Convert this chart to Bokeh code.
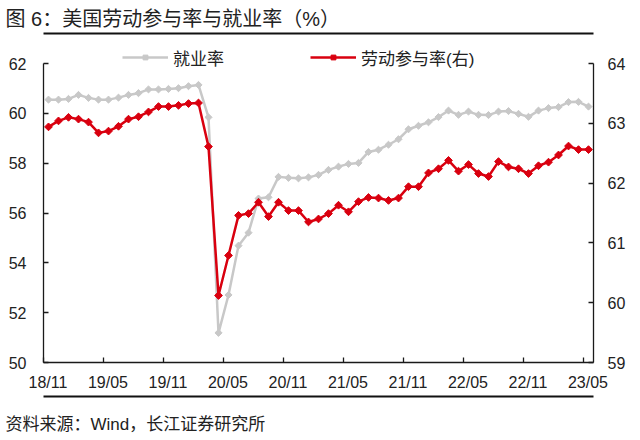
import math
from bokeh.plotting import figure
from bokeh.models import (Range1d, LinearAxis, FixedTicker, Legend, LegendItem, Title)
from bokeh.embed import file_html
from bokeh.resources import INLINE

# ---- data ----
months = [
    "2018-11", "2018-12",
    "2019-01", "2019-02", "2019-03", "2019-04", "2019-05", "2019-06",
    "2019-07", "2019-08", "2019-09", "2019-10", "2019-11", "2019-12",
    "2020-01", "2020-02", "2020-03", "2020-04", "2020-05", "2020-06",
    "2020-07", "2020-08", "2020-09", "2020-10", "2020-11", "2020-12",
    "2021-01", "2021-02", "2021-03", "2021-04", "2021-05", "2021-06",
    "2021-07", "2021-08", "2021-09", "2021-10", "2021-11", "2021-12",
    "2022-01", "2022-02", "2022-03", "2022-04", "2022-05", "2022-06",
    "2022-07", "2022-08", "2022-09", "2022-10", "2022-11", "2022-12",
    "2023-01", "2023-02", "2023-03", "2023-04", "2023-05",
]

employment_rate = [
    60.55, 60.55, 60.58, 60.74, 60.62, 60.55, 60.55, 60.63, 60.74, 60.81,
    60.96, 60.96, 60.98, 61.01, 61.09, 61.14, 59.84, 51.19, 52.71, 54.69,
    55.21, 56.58, 56.63, 57.45, 57.41, 57.39, 57.43, 57.53, 57.73, 57.86,
    57.97, 58.01, 58.45, 58.54, 58.74, 58.96, 59.36, 59.50, 59.64, 59.85,
    60.11, 59.94, 60.07, 59.94, 59.93, 60.07, 60.09, 59.98, 59.86, 60.11,
    60.21, 60.25, 60.45, 60.46, 60.27,
]

participation_rate = [
    62.94, 63.04, 63.10, 63.07, 63.02, 62.84, 62.87, 62.95, 63.07, 63.11,
    63.19, 63.28, 63.28, 63.30, 63.33, 63.34, 62.61, 60.12, 60.79, 61.46,
    61.49, 61.68, 61.44, 61.68, 61.54, 61.54, 61.35, 61.40, 61.49, 61.63,
    61.52, 61.69, 61.76, 61.75, 61.71, 61.75, 61.94, 61.94, 62.17, 62.24,
    62.38, 62.20, 62.31, 62.16, 62.11, 62.36, 62.27, 62.24, 62.16, 62.29,
    62.35, 62.47, 62.62, 62.56, 62.56,
]

tick_labels = ["18/11", "19/05", "19/11", "20/05", "20/11",
               "21/05", "21/11", "22/05", "22/11", "23/05"]
left_ticks = [50, 52, 54, 56, 58, 60, 62]
right_ticks = [59, 60, 61, 62, 63, 64]

title_text = "图 6：美国劳动参与率与就业率（%）"
source_text = "资料来源：Wind，长江证券研究所"
legend_emp = "就业率"
legend_lfpr = "劳动参与率(右)"

# ---- styling / layout ----
FONT = "Liberation Sans, Noto Sans CJK SC"
GRAY = "#C8C8C8"
RED = "#D9000F"
AXIS = "#1a1a1a"
RULE = "#111111"
TEXT = "#222222"

W, H = 640, 440
FR_LEFT, FR_RIGHT, FR_TOP, FR_BOTTOM = 43, 593, 33, 362   # frame (pixels)
AX_TOP = 63                                                # top of the drawn value axes
left_lo, left_hi = left_ticks[0], left_ticks[-1]
right_lo, right_hi = right_ticks[0], right_ticks[-1]
ax_h = FR_BOTTOM - AX_TOP
fr_h = FR_BOTTOM - FR_TOP
left_top = left_lo + fr_h * (left_hi - left_lo) / ax_h
right_top = right_lo + fr_h * (right_hi - right_lo) / ax_h

n = len(months)
xs = [i + 0.5 for i in range(n)]

p = figure(width=W, height=H, output_backend="svg", toolbar_location=None,
           x_range=Range1d(0, n), y_range=Range1d(left_lo, left_top),
           x_axis_type=None, y_axis_type=None,
           min_border_left=FR_LEFT, min_border_right=W - FR_RIGHT,
           min_border_top=FR_TOP, min_border_bottom=H - FR_BOTTOM)
p.extra_y_ranges = {"right": Range1d(right_lo, right_top)}
p.outline_line_color = None
p.background_fill_color = "white"
p.border_fill_color = "white"

# axes
xaxis = LinearAxis(ticker=FixedTicker(ticks=[6 * k + 0.45 for k in range(len(tick_labels))],
                                      minor_ticks=[6 * k for k in range(len(tick_labels))]))
xaxis.major_label_overrides = {6 * k + 0.45: lab for k, lab in enumerate(tick_labels)}
xaxis.major_tick_in = 0
xaxis.major_tick_out = 0
xaxis.minor_tick_in = 5
xaxis.minor_tick_out = 0
xaxis.minor_tick_line_color = AXIS
xaxis.minor_tick_line_width = 1.3
xaxis.major_label_standoff = 11
p.add_layout(xaxis, "below")

yaxis = LinearAxis(ticker=FixedTicker(ticks=left_ticks, minor_ticks=[]),
                   bounds=(left_lo, left_hi))
yaxis.major_tick_in = 5
yaxis.major_tick_out = 0
yaxis.major_label_standoff = 17
p.add_layout(yaxis, "left")

raxis = LinearAxis(y_range_name="right", ticker=FixedTicker(ticks=right_ticks, minor_ticks=[]),
                   bounds=(right_lo, right_hi))
raxis.major_tick_in = 5
raxis.major_tick_out = 0
raxis.major_label_standoff = 14
p.add_layout(raxis, "right")

for ax in (xaxis, yaxis, raxis):
    ax.axis_line_color = AXIS
    ax.axis_line_width = 1.3
    ax.major_tick_line_color = AXIS
    ax.major_tick_line_width = 1.3
    ax.major_label_text_font = FONT
    ax.major_label_text_font_size = "16px"
    ax.major_label_text_color = TEXT

# series
g_line = p.line(xs, employment_rate, line_color=GRAY, line_width=2.5)
g_pts = p.scatter(xs, employment_rate, marker="square", angle=math.pi / 4, size=5,
                  fill_color=GRAY, line_color=GRAY)
r_line = p.line(xs, participation_rate, line_color=RED, line_width=2.5, y_range_name="right")
r_pts = p.scatter(xs, participation_rate, marker="square", angle=math.pi / 4, size=5.5,
                  fill_color=RED, line_color=RED, y_range_name="right")

# legend inside the (extended) frame, just above the plotted area
legend = Legend(items=[LegendItem(label=legend_emp, renderers=[g_line, g_pts]),
                       LegendItem(label=legend_lfpr, renderers=[r_line, r_pts])],
                location=(122 - FR_LEFT, FR_BOTTOM - 56.5 - 13),
                orientation="horizontal", padding=0, margin=0,
                spacing=86, glyph_width=46, glyph_height=12, label_height=12,
                label_standoff=5, label_text_font=FONT, label_text_font_size="17px",
                label_text_color=TEXT, label_text_baseline="middle",
                border_line_alpha=0, background_fill_alpha=0)
p.add_layout(legend, "center")


def rule_axis(line_color):
    # an axis with no ticks or labels: only its line (a horizontal rule)
    return LinearAxis(ticker=FixedTicker(ticks=[], minor_ticks=[]),
                      axis_line_color=line_color, axis_line_width=2,
                      major_tick_in=0, major_tick_out=0,
                      minor_tick_in=0, minor_tick_out=0,
                      major_tick_line_color=None, minor_tick_line_color=None,
                      major_label_standoff=0)


def spacer_axis(size):
    # an invisible axis whose only job is to take up vertical room
    mid = n / 2
    ax = LinearAxis(ticker=FixedTicker(ticks=[mid], minor_ticks=[]),
                    axis_line_color=None, major_tick_line_color=None,
                    minor_tick_line_color=None,
                    major_tick_in=0, major_tick_out=size,
                    minor_tick_in=0, minor_tick_out=0,
                    major_label_standoff=0, major_label_text_font_size="1px",
                    major_label_text_alpha=0)
    ax.major_label_overrides = {mid: ""}
    return ax


# above: the rule sits on the frame top, the title above it
p.add_layout(rule_axis(RULE), "above")
p.add_layout(Title(text=title_text, align="left", offset=5 - FR_LEFT, standoff=7,
                   text_font=FONT, text_font_size="20px", text_font_style="normal",
                   text_color=TEXT), "above")

# below: x axis, spacer, the rule, spacer, then the source
p.add_layout(spacer_axis(3), "below")
p.add_layout(rule_axis(RULE), "below")
p.add_layout(spacer_axis(15), "below")
p.add_layout(Title(text=source_text, align="left", offset=5 - FR_LEFT, standoff=2,
                   text_font=FONT, text_font_size="17px", text_font_style="normal",
                   text_color=TEXT), "below")

open("out.html", "w").write(file_html(p, INLINE))
